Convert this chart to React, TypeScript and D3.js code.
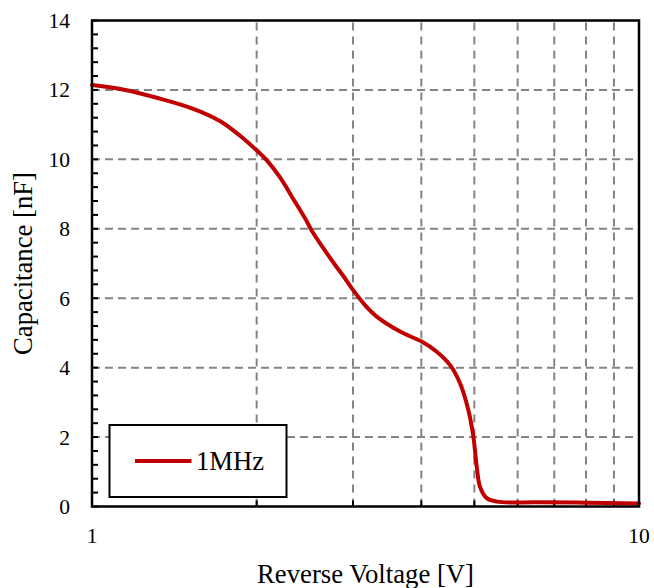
import React from "react";
import * as d3 from "d3";

const voltage = [1.0, 1.15, 1.324, 1.523, 1.716, 1.865, 2.0, 2.086, 2.207, 2.333, 2.469, 2.521, 2.648, 2.8, 2.88, 3.0, 3.156, 3.315, 3.657, 4.005, 4.268, 4.512, 4.708, 4.875, 4.98, 5.05, 5.121, 5.268, 5.495, 6.5, 8.0, 10.0];
const capacitance = [12.14, 12.0, 11.76, 11.47, 11.1, 10.68, 10.26, 9.98, 9.48, 8.86, 8.22, 7.95, 7.44, 6.9, 6.64, 6.24, 5.8, 5.47, 5.04, 4.75, 4.46, 4.08, 3.55, 2.78, 2.01, 1.15, 0.57, 0.24, 0.14, 0.12, 0.11, 0.09];
const yTicks = [0, 2, 4, 6, 8, 10, 12, 14];
const xGrid = [2, 3, 4, 5, 6, 7, 8, 9];
const xTickLabels = [1, 10];
const seriesName = "1MHz";

const W = 654, H = 588;
const L = 92, R = 639, T = 20.5, B = 506.5;
const FONT = "'Liberation Serif', 'Times New Roman', serif";

export default function App() {
  const x = d3.scaleLog().domain([1, 10]).range([L, R]);
  const y = d3.scaleLinear().domain([0, 14]).range([B, T]);
  const pts = voltage.map((v, i) => [v, capacitance[i]] as [number, number]);
  const line = d3.line<[number, number]>().x(d => x(d[0])).y(d => y(d[1])).curve(d3.curveCatmullRom.alpha(0.5));
  const minor = d3.range(0, 14.001, 0.4);
  return (
    <svg width={W} height={H} style={{ position: "absolute", left: 0, top: 0, background: "#fff" }}>
      <rect x={0} y={0} width={W} height={H} fill="#fff" />
      {yTicks.filter(t => t > 0 && t < 14).map(t => (
        <line key={"gy" + t} x1={L} x2={R} y1={y(t)} y2={y(t)} stroke="#848484" strokeWidth={2} strokeDasharray="8,5" />
      ))}
      {xGrid.map(t => (
        <line key={"gx" + t} x1={x(t)} x2={x(t)} y1={B} y2={T} stroke="#848484" strokeWidth={2} strokeDasharray="8,6" />
      ))}
      {minor.map((t, i) => (
        <line key={"my" + i} x1={L} x2={L + 6} y1={y(t)} y2={y(t)} stroke="#000" strokeWidth={2} />
      ))}
      {xGrid.map(t => (
        <line key={"tx" + t} x1={x(t)} x2={x(t)} y1={B} y2={B - 6} stroke="#000" strokeWidth={2} />
      ))}
      <path d={line(pts) || ""} fill="none" stroke="#C00000" strokeWidth={4} strokeLinejoin="round" strokeLinecap="round" />
      <rect x={L} y={T} width={R - L} height={B - T} fill="none" stroke="#000" strokeWidth={2.5} />
      {yTicks.map(t => (
        <text key={"ly" + t} x={L - 22} y={y(t)} dy="0.35em" textAnchor="end" fontFamily={FONT} fontSize={21.5} fill="#000">{t}</text>
      ))}
      {xTickLabels.map(t => (
        <text key={"lx" + t} x={x(t)} y={543} textAnchor="middle" fontFamily={FONT} fontSize={21.5} fill="#000">{t}</text>
      ))}
      <text x={(L + R) / 2} y={583} textAnchor="middle" fontFamily={FONT} fontSize={26.7} fill="#000">Reverse Voltage [V]</text>
      <text transform={`translate(32,${(T + B) / 2}) rotate(-90)`} textAnchor="middle" fontFamily={FONT} fontSize={26.7} fill="#000">Capacitance [nF]</text>
      <rect x={109.5} y={425} width={177} height={72} fill="#fff" stroke="#000" strokeWidth={2} />
      <line x1={135} x2={191.5} y1={461} y2={461} stroke="#C00000" strokeWidth={4} />
      <text x={196} y={470} fontFamily={FONT} fontSize={26.7} fill="#000">{seriesName}</text>
    </svg>
  );
}
